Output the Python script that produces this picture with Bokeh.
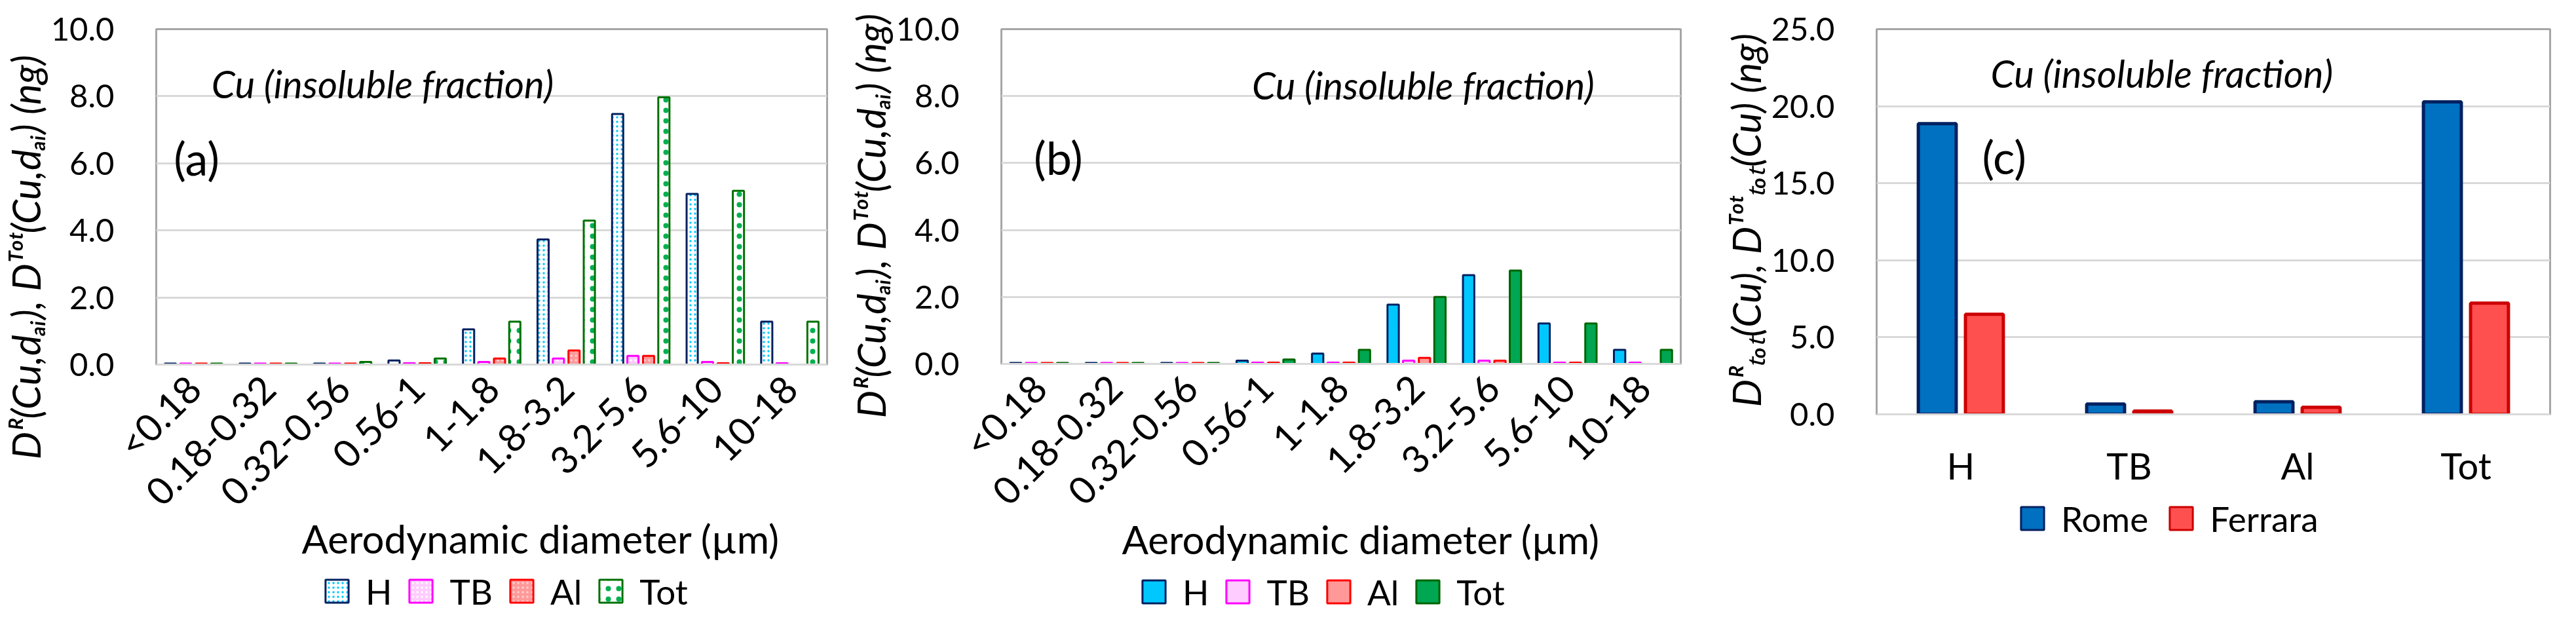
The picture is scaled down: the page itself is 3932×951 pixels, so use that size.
import math
from bokeh.plotting import figure
from bokeh.models import (ColumnDataSource, FactorRange, Range1d, FixedTicker,
                          NumeralTickFormatter, Label, Legend, LegendItem, Title)
from bokeh.transform import dodge
from bokeh.layouts import row, column
from bokeh.embed import file_html
from bokeh.resources import INLINE

# ---------------- data ----------------
size_bins = ["<0.18", "0.18-0.32", "0.32-0.56", "0.56-1", "1-1.8",
             "1.8-3.2", "3.2-5.6", "5.6-10", "10-18"]
series_names = ["H", "TB", "Al", "Tot"]

# panel (a)
a_H = [0.03, 0.03, 0.03, 0.12, 1.05, 3.73, 7.47, 5.09, 1.28]
a_TB = [0.03, 0.03, 0.03, 0.04, 0.08, 0.18, 0.26, 0.08, 0.04]
a_Al = [0.03, 0.03, 0.03, 0.04, 0.18, 0.42, 0.26, 0.04, 0.0]
a_Tot = [0.03, 0.03, 0.08, 0.18, 1.28, 4.29, 7.97, 5.18, 1.28]

# panel (b)
b_H = [0.03, 0.03, 0.03, 0.10, 0.31, 1.77, 2.65, 1.21, 0.42]
b_TB = [0.03, 0.03, 0.03, 0.04, 0.04, 0.10, 0.10, 0.04, 0.04]
b_Al = [0.03, 0.03, 0.03, 0.04, 0.04, 0.18, 0.10, 0.04, 0.0]
b_Tot = [0.03, 0.03, 0.03, 0.13, 0.42, 2.00, 2.79, 1.21, 0.42]

# panel (c)
regions = ["H", "TB", "Al", "Tot"]
cities = ["Rome", "Ferrara"]
rome_total = [18.87, 0.67, 0.82, 20.28]
ferrara_total = [6.49, 0.21, 0.46, 7.22]

y_ticks_ab = [0, 2, 4, 6, 8, 10]
y_ticks_c = [0, 5, 10, 15, 20, 25]

title_text = "Cu (insoluble fraction)"
x_title = "Aerodynamic diameter (\u00b5m)"
y_title_ab = "D\u1d3f(Cu,d\u2090\u1d62), D\u1d40\u1d52\u1d57(Cu,d\u2090\u1d62) (ng)"
y_title_c = "D\u1d3f\u209c\u2092\u209c(Cu), D\u1d40\u1d52\u1d57\u209c\u2092\u209c(Cu) (ng)"

FONT = "Lato"


def safe_set(obj, attr, v, fallback):
    try:
        setattr(obj, attr, v)
    except Exception:
        setattr(obj, attr, fallback)


def base_fig(width, height, bl, br, bb, factors, y_end, ticks):
    p = figure(width=width, height=height,
               x_range=FactorRange(factors=factors, range_padding=0),
               y_range=Range1d(0, y_end),
               output_backend="svg", toolbar_location=None,
               min_border_left=bl, min_border_right=br,
               min_border_top=44, min_border_bottom=bb)
    p.outline_line_color = "#A6A6A6"
    p.outline_line_width = 3
    p.xgrid.grid_line_color = None
    p.ygrid.grid_line_color = "#D9D9D9"
    p.ygrid.grid_line_width = 3
    p.yaxis.ticker = FixedTicker(ticks=ticks)
    p.yaxis.formatter = NumeralTickFormatter(format="0.0")
    for ax in (p.xaxis[0], p.yaxis[0]):
        ax.major_tick_line_color = None
        ax.minor_tick_line_color = None
        ax.major_label_text_font = FONT
        ax.major_label_text_color = "black"
    p.yaxis.axis_line_color = None
    p.yaxis.major_label_text_font_size = "49px"
    p.yaxis.major_label_standoff = 58
    p.xaxis.axis_line_color = "#D9D9D9"
    p.xaxis.axis_line_width = 3
    p.xaxis.major_label_text_font_size = "58px"
    return p


def strip_fig(width, height, bl, br):
    s = figure(width=width, height=height, x_range=Range1d(0, 1),
               y_range=Range1d(0, 1), x_axis_type=None, y_axis_type=None,
               output_backend="svg", toolbar_location=None,
               min_border_left=bl, min_border_right=br,
               min_border_top=0, min_border_bottom=0)
    s.outline_line_color = None
    return s


def label(p, x, y, text, size, style="normal"):
    p.add_layout(Label(x=x, y=y, text=text, text_align="left",
                       text_baseline="alphabetic", text_font=FONT, text_font_style=style,
                       text_font_size=size, text_color="black"))


def y_title(p, text, offset):
    t = Title(text=text, align="left", text_font=FONT,
              text_font_style="italic", text_font_size="60px", text_color="black")
    safe_set(t, "offset", offset, 0)
    t.standoff = 0
    p.add_layout(t, "left")


def legend_in_strip(s, names, styles, x, y, spacing):
    items = []
    for n, st in zip(names, styles):
        r = s.scatter(x=[0.5], y=[0.5], marker="square", line_width=3, visible=False, **st)
        items.append(LegendItem(label=n, renderers=[r]))
    leg = Legend(items=items, orientation="horizontal", location=(x, y),
                 glyph_width=88, glyph_height=88, label_height=40,
                 padding=0, margin=0, border_line_color=None,
                 background_fill_alpha=0, inactive_fill_alpha=0,
                 label_text_font=FONT, label_text_font_size="53px",
                 label_text_color="black")
    safe_set(leg, "label_standoff", -6, 0)
    safe_set(leg, "spacing", spacing, 0)
    s.add_layout(leg)


def size_panel(values, styles, width, chart_h, bb, tag, tag_x, title_x, title_y,
               yt_offset, xt_offset, xt_standoff, leg_x, leg_y, bl, br):
    p = base_fig(width, chart_h, bl, br, bb, size_bins, 10, y_ticks_ab)
    p.xaxis.major_label_orientation = math.pi / 4
    p.xaxis.major_label_standoff = 20
    data = {"bin": size_bins}
    for n, v in zip(series_names, values):
        data[n] = v
    src = ColumnDataSource(data)
    offsets = [-0.31, -0.105, 0.105, 0.31]
    for n, off, st in zip(series_names, offsets, styles):
        p.vbar(x=dodge("bin", off, range=p.x_range), top=n, width=0.15,
               source=src, line_width=3, **st)
    label(p, title_x, title_y, title_text, "58px", style="italic")
    label(p, tag_x, 6.17, tag, "70px")
    y_title(p, y_title_ab, yt_offset)
    xt = Title(text=x_title, align="left", text_font=FONT, text_font_style="normal",
               text_font_size="60px", text_color="black")
    safe_set(xt, "offset", xt_offset, 0)
    safe_set(xt, "standoff", xt_standoff, 0)
    p.add_layout(xt, "below")
    s = strip_fig(width, 935 - chart_h, bl, br)
    legend_in_strip(s, series_names, styles, leg_x, leg_y, -5)
    return column(p, s)


styles_a = [
    dict(fill_color="white", line_color="#002060", hatch_pattern="dot",
         hatch_color="#00C8FF", hatch_scale=7, hatch_weight=2),
    dict(fill_color="#FFCCFF", line_color="#FF00FF", hatch_pattern="dot",
         hatch_color="white", hatch_scale=7, hatch_weight=2),
    dict(fill_color="#FF9999", line_color="#FF0000", hatch_pattern="dot",
         hatch_color="#FFD0D0", hatch_scale=7, hatch_weight=2),
    dict(fill_color="white", line_color="#007000", hatch_pattern="dot",
         hatch_color="#00B050", hatch_scale=16, hatch_weight=3),
]
styles_b = [
    dict(fill_color="#00C8FF", line_color="#002060"),
    dict(fill_color="#FFCCFF", line_color="#FF00FF"),
    dict(fill_color="#FF9999", line_color="#FF0000"),
    dict(fill_color="#00A651", line_color="#006400"),
]

col_a = size_panel([a_H, a_TB, a_Al, a_Tot], styles_a, 1290, 868, 312, "(a)",
                   0.235, 0.74, 8.38, -145, 222, -56, 232, -11, 230, 28)
col_b = size_panel([b_H, b_TB, b_Al, b_Tot], styles_b, 1312, 872, 317, "(b)",
                   0.43, 3.32, 8.34, -83, 184, -51, 189, -12, 230, 37)

# ---------------- panel (c) ----------------
pc = base_fig(1314, 757, 262, 24, 125, regions, 25, y_ticks_c)
pc.xaxis.major_label_text_font_size = "56px"
pc.xaxis.major_label_standoff = 38
src_c = ColumnDataSource({"region": regions, "Rome": rome_total, "Ferrara": ferrara_total})
c_styles = [dict(fill_color="#0070C0", line_color="#002060"),
            dict(fill_color="#FF5050", line_color="#CC0000")]
for n, off, st in zip(cities, [-0.14, 0.14], c_styles):
    pc.vbar(x=dodge("region", off, range=pc.x_range), top=n, width=0.225,
            source=src_c, line_width=5, **st)
label(pc, 0.677, 22.15, title_text, "58px", style="italic")
label(pc, 0.626, 16.75, "(c)", "70px")
y_title(pc, y_title_c, 11)
sc = strip_fig(1314, 935 - 757, 262, 24)
legend_in_strip(sc, cities, c_styles, 194, 100, 6)
col_c = column(pc, sc)

layout = row(col_a, col_b, col_c)
open("out.html", "w").write(file_html(layout, INLINE))
